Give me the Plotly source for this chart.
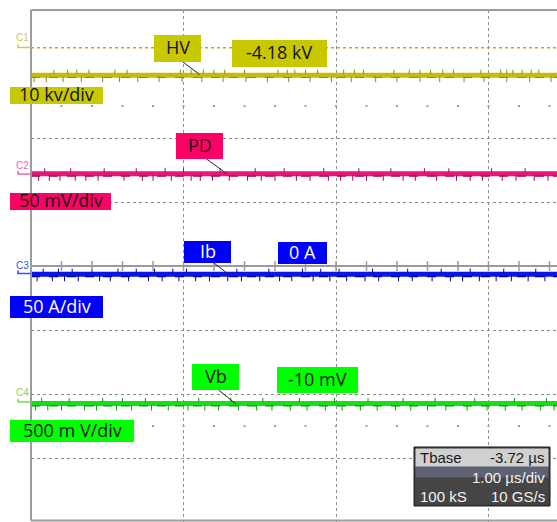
import plotly.graph_objects as go
import numpy as np

# ---------------- data (screen divisions; 1 div = 1.00 µs horizontally) ----------------
time_span = [0.0, 3.45]
channel_names = ["HV", "PD", "Ib", "Vb"]
channel_levels = [2.98, 1.44, -0.13, -2.15]          # trace level in divisions
channel_readouts = ["-4.18 kV", "", "0 A", "-10 mV"]
channel_scales = ["10 kv/div", "50 mV/div", "50 A/div", "500 m V/div"]
trigger_level = 3.41

hv_spikes_down = [0.02, 0.10, 0.21, 0.33, 0.47, 0.58, 0.70, 0.84, 0.99, 1.12, 1.26, 1.41, 1.55,
                  1.69, 1.83, 1.97, 2.10, 2.26, 2.40, 2.55, 2.68, 2.84, 2.97, 3.12, 3.27, 3.41]
hv_spikes_up = [0.15, 0.24, 0.30, 0.38, 0.55, 0.63, 0.98, 1.05, 1.13, 1.20, 1.27, 1.40, 1.62,
                1.68, 1.73, 1.80, 1.88, 2.05, 2.12, 2.18, 2.38, 2.48, 2.55, 2.62, 2.70, 2.77, 2.95,
                3.08, 3.12, 3.16, 3.22, 3.28, 3.33]
pd_spikes_down = [0.05, 0.12, 0.19, 0.29, 0.36, 0.44, 0.61, 0.73, 0.80, 0.92, 1.05, 1.11, 1.19,
                  1.30, 1.42, 1.51, 1.60, 1.74, 1.83, 1.95, 2.03, 2.11, 2.20, 2.31, 2.44, 2.52,
                  2.66, 2.79, 2.88, 2.96, 3.09, 3.18, 3.30, 3.39]
pd_spikes_up = [0.09, 0.26, 0.48, 0.69, 0.88, 1.00, 1.24, 1.47, 1.66, 1.92, 2.15, 2.36, 2.58,
                2.74, 3.02, 3.24]
ib_spikes_down = [0.04, 0.14, 0.22, 0.31, 0.45, 0.52, 0.64, 0.77, 0.86, 0.97, 1.08, 1.17, 1.29,
                  1.38, 1.50, 1.63, 1.71, 1.85, 1.96, 2.07, 2.19, 2.28, 2.41, 2.50, 2.63, 2.75,
                  2.83, 2.94, 3.05, 3.15, 3.26, 3.37]
ib_spikes_up = [0.08, 0.18, 0.27, 0.40, 0.57, 0.69, 0.81, 0.93, 1.02, 1.35, 1.56, 1.78, 1.90,
                2.02, 2.24, 2.47, 2.69, 2.88, 3.10, 3.31]
vb_spikes_down = [0.03, 0.11, 0.20, 0.35, 0.43, 0.56, 0.66, 0.79, 0.90, 1.03, 1.14, 1.23, 1.36,
                  1.48, 1.58, 1.70, 1.81, 1.93, 2.04, 2.16, 2.27, 2.39, 2.49, 2.60, 2.72, 2.86,
                  2.99, 3.11, 3.22, 3.34, 3.43]
vb_spikes_up = [0.07, 0.25, 0.47, 0.60, 0.75, 0.96, 1.10, 1.31, 1.52, 1.76, 1.99, 2.21, 2.44,
                2.65, 2.91, 3.17, 3.38]

spikes_down = [hv_spikes_down, pd_spikes_down, ib_spikes_down, vb_spikes_down]
spikes_up = [hv_spikes_up, pd_spikes_up, ib_spikes_up, vb_spikes_up]

timebase_rows = [("Tbase", "-3.72 µs"), ("", "1.00 µs/div"), ("100 kS", "10 GS/s")]

# ---------------- style ----------------
W, H = 557, 522
ML, MT = 31, 10
PW, PH = W - ML, H - MT
X_PER_DIV = 152.5
x_max = PW / X_PER_DIV

main_colors = ["#c2bd0c", "#e8157a", "#0a16e8", "#14e014"]
dark_colors = ["#8d8a1c", "#a8084e", "#000096", "#06a006"]
box_colors = ["#c8c800", "#ff0066", "#0000ff", "#00ff00"]
box_text = ["#111111", "#111111", "#ffffff", "#111111"]
tag_colors = ["#d2ca50", "#f06aa6", "#3c50ff", "#78e048"]


def PX(px):
    return (px - ML) / PW


def PY(py):
    return (H - py) / PH


fig = go.Figure()

# trigger level line (C1)
fig.add_trace(go.Scatter(x=time_span, y=[trigger_level, trigger_level], mode="lines",
                         line=dict(color="#d8a000", width=1.5, dash="dot"), hoverinfo="skip"))

# channel traces
for i, lvl in enumerate(channel_levels):
    fig.add_trace(go.Scatter(x=time_span, y=[lvl, lvl], mode="lines",
                             line=dict(color=main_colors[i], width=5), hoverinfo="skip"))
    fig.add_trace(go.Scatter(x=time_span, y=[lvl - 0.035, lvl - 0.035], mode="lines",
                             line=dict(color=dark_colors[i], width=1.2, dash="dash"),
                             hoverinfo="skip"))
    fig.add_trace(go.Scatter(x=spikes_down[i], y=[lvl - 0.065] * len(spikes_down[i]),
                             mode="markers",
                             marker=dict(symbol="line-ns", size=4,
                                         line=dict(color=dark_colors[i], width=1)),
                             hoverinfo="skip"))
    fig.add_trace(go.Scatter(x=spikes_up[i], y=[lvl + 0.055] * len(spikes_up[i]),
                             mode="markers",
                             marker=dict(symbol="line-ns", size=3,
                                         line=dict(color=dark_colors[i], width=1)),
                             hoverinfo="skip"))

# centre-axis tick marks and half-division dot rows (graticule)
minor = np.arange(0, x_max + 1e-9, 0.2)
fig.add_trace(go.Scatter(x=minor, y=[0] * len(minor), mode="markers",
                         marker=dict(symbol="line-ns", size=7,
                                     line=dict(color="#9a9a9a", width=1.5)),
                         hoverinfo="skip"))
for yrow in (2.5, -2.5):
    fig.add_trace(go.Scatter(x=minor, y=[yrow] * len(minor), mode="markers",
                             marker=dict(symbol="square", size=2, color="#a0a0a0"),
                             hoverinfo="skip"))

shapes = []
# screen border (top, left, bottom)
for x0, y0, x1, y1 in [(PX(31), PY(10), PX(560), PY(10)),
                       (PX(31), PY(10), PX(31), PY(520.5)),
                       (PX(31), PY(520.5), PX(560), PY(520.5))]:
    shapes.append(dict(type="line", xref="paper", yref="paper", x0=x0, y0=y0, x1=x1, y1=y1,
                       line=dict(color="#9c9c9c", width=2)))

# leader lines from labels to traces
leaders = [(183, 62, 199.5, 74.5), (206.5, 159, 226.5, 173.5),
           (214, 263, 227.5, 273.5), (218.5, 390, 236, 404)]
for (x0, y0, x1, y1) in leaders:
    shapes.append(dict(type="line", xref="paper", yref="paper", x0=PX(x0), y0=PY(y0),
                       x1=PX(x1), y1=PY(y1), line=dict(color="#222222", width=1)))

# channel offset markers at left
marker_y = [47.5, 174, 273.5, 402]
for i, my in enumerate(marker_y):
    shapes.append(dict(type="path", xref="paper", yref="paper",
                       path=f"M {PX(18)},{PY(my - 3)} L {PX(18)},{PY(my)} L {PX(31)},{PY(my)}",
                       line=dict(color=tag_colors[i], width=1.6)))

# timebase box
tb = [((414, 447, 550, 506), "#3c3c3c", "#1e1e1e"),
      ((416, 449, 548, 467), "#d0d0d0", "#d0d0d0"),
      ((416, 467, 548, 478), "#5d6372", "#5d6372"),
      ((416, 478, 548, 504), "#454545", "#454545")]
for (x0, y0, x1, y1), fc, lc in tb:
    shapes.append(dict(type="rect", xref="paper", yref="paper", x0=PX(x0), y0=PY(y0),
                       x1=PX(x1), y1=PY(y1), fillcolor=fc, line=dict(color=lc, width=1)))

annotations = []


def box(text, x0, y0, x1, y1, bg, fg, size=18):
    shapes.append(dict(type="rect", xref="paper", yref="paper", x0=PX(x0), y0=PY(y0),
                       x1=PX(x1), y1=PY(y1), fillcolor=bg, line=dict(width=0), layer="above"))
    annotations.append(dict(text=text, xref="paper", yref="paper",
                            x=PX((x0 + x1) / 2), y=PY((y0 + y1) / 2), yshift=1.5,
                            xanchor="center", yanchor="middle", showarrow=False,
                            font=dict(family="Open Sans", size=size, color=fg)))


name_boxes = [(154, 35, 201, 62), (176, 133, 223, 159), (184, 241, 231, 263), (192, 364, 239, 390)]
readout_boxes = [(232, 40, 327, 67), None, (278, 242, 327, 264), (277, 367, 358, 393)]
scale_boxes = [(10, 87, 103, 104), (10, 193, 111, 210), (10, 296, 103, 318), (10, 420, 134, 442)]

for i in range(4):
    box(channel_names[i], *name_boxes[i], box_colors[i], box_text[i])
    if readout_boxes[i] is not None:
        box(channel_readouts[i], *readout_boxes[i], box_colors[i], box_text[i])
    box(channel_scales[i], *scale_boxes[i], box_colors[i], box_text[i])

# channel tags C1..C4
tag_y = [37.5, 165.5, 265.5, 392]
for i, ty in enumerate(tag_y):
    annotations.append(dict(text=f"C{i + 1}", xref="paper", yref="paper", x=PX(22), y=PY(ty),
                            xanchor="center", yanchor="middle", showarrow=False,
                            font=dict(family="Liberation Sans", size=10, color=tag_colors[i])))

# timebase text
row_y = [457.5, 477.5, 496]
for (left, right), ry, fg in zip(timebase_rows, row_y, ["#1a1a1a", "#f2f2f2", "#f2f2f2"]):
    if left:
        annotations.append(dict(text=left, xref="paper", yref="paper", x=PX(418), y=PY(ry),
                                xanchor="left", yanchor="middle", showarrow=False,
                                font=dict(family="Liberation Sans", size=15, color=fg)))
    if right:
        annotations.append(dict(text=right, xref="paper", yref="paper", x=PX(547), y=PY(ry),
                                xanchor="right", yanchor="middle", showarrow=False,
                                font=dict(family="Liberation Sans", size=15, color=fg)))

fig.update_layout(
    width=W, height=H,
    margin=dict(l=ML, r=0, t=MT, b=0),
    paper_bgcolor="white", plot_bgcolor="white",
    showlegend=False,
    xaxis=dict(range=[0, x_max], dtick=1, tick0=0, showgrid=True, gridcolor="#8e8e8e",
               griddash="dot", gridwidth=1, zeroline=False, showline=False,
               showticklabels=False, ticks="", fixedrange=True),
    yaxis=dict(range=[-4, 4], dtick=1, tick0=0, showgrid=True, gridcolor="#8e8e8e",
               griddash="dot", gridwidth=1, zeroline=True, zerolinecolor="#9a9a9a",
               zerolinewidth=2, showline=False, showticklabels=False, ticks="",
               fixedrange=True),
    shapes=shapes,
    annotations=annotations,
)

fig.write_html("out.html",
               config={"displayModeBar": False},
               post_script="document.body.style.margin='0';"
                           "document.body.style.overflow='hidden';")
